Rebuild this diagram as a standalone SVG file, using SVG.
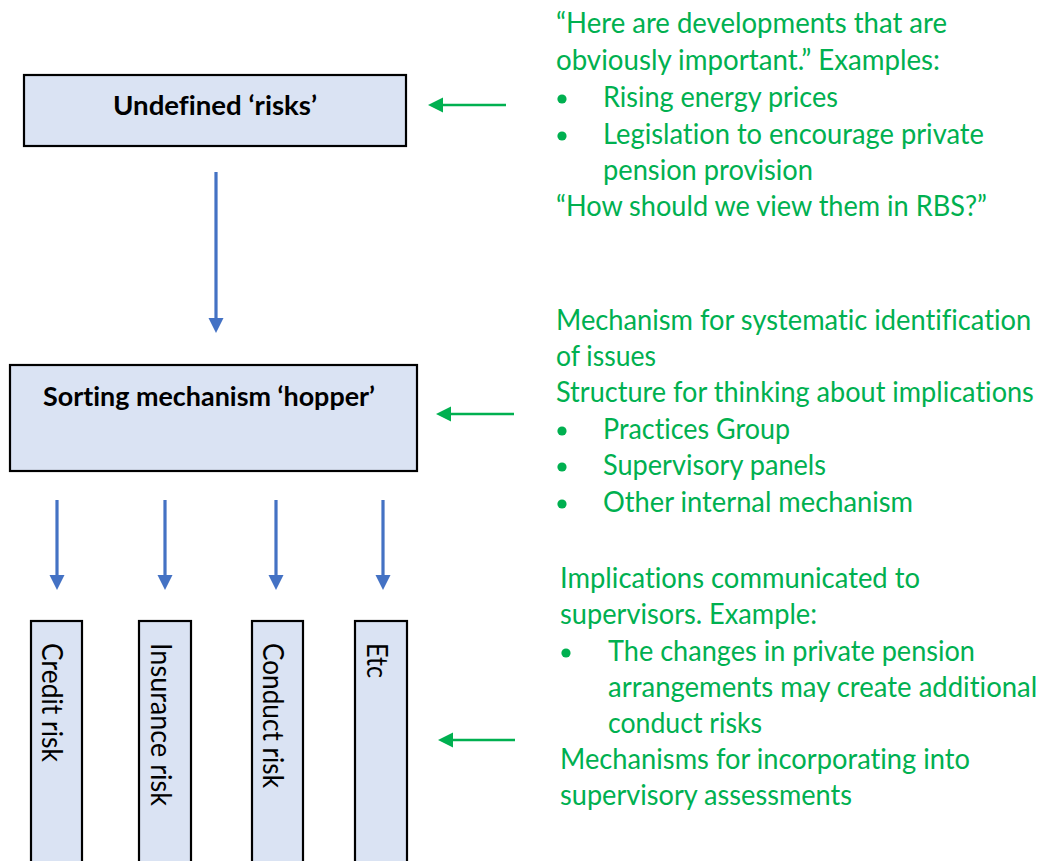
<svg xmlns="http://www.w3.org/2000/svg" width="1045" height="861" viewBox="0 0 1045 861">
  <style>
    text { font-variant-ligatures: none; }
    .box { fill: #DAE3F3; stroke: #000; stroke-width: 2.2; }
    .title { font-family: Lato, "Liberation Sans", sans-serif; font-weight: bold; font-size: 27px; fill: #000; }
    .col { font-family: Lato, "Liberation Sans", sans-serif; font-size: 28px; fill: #000; }
    .note { font-family: Lato, "Liberation Sans", sans-serif; font-size: 28px; fill: #00B050; }
    .dot { fill: #00B050; }
    .blue { stroke: #4472C4; stroke-width: 3.2; fill: none; }
    .green { stroke: #00B050; stroke-width: 2.6; fill: none; }
  </style>
  <defs>
    <marker id="headBlue" markerUnits="userSpaceOnUse" markerWidth="16" markerHeight="16" refX="2" refY="7.5" orient="auto">
      <path d="M0,0 L15,7.5 L0,15 z" fill="#4472C4"/>
    </marker>
    <marker id="headGreen" markerUnits="userSpaceOnUse" markerWidth="16" markerHeight="16" refX="2" refY="7.5" orient="auto">
      <path d="M0,0 L15,7.5 L0,15 z" fill="#00B050"/>
    </marker>
  </defs>
  <rect width="1045" height="861" fill="#fff"/>

  <!-- top box -->
  <g id="undefined-risks">
    <rect class="box" x="24" y="75" width="382" height="71"/>
    <text class="title" x="113" y="115" textLength="204" lengthAdjust="spacingAndGlyphs">Undefined ‘risks’</text>
  </g>

  <!-- sorting box -->
  <g id="hopper">
    <rect class="box" x="10" y="365" width="407" height="106"/>
    <text class="title" x="43" y="406" textLength="332" lengthAdjust="spacingAndGlyphs">Sorting mechanism ‘hopper’</text>
  </g>

  <!-- risk category columns -->
  <g id="credit-risk">
    <rect class="box" x="31" y="621" width="51" height="260"/>
    <text class="col" transform="translate(42,643) rotate(90)" textLength="119" lengthAdjust="spacingAndGlyphs">Credit risk</text>
  </g>
  <g id="insurance-risk">
    <rect class="box" x="139" y="621" width="52" height="260"/>
    <text class="col" transform="translate(151,643) rotate(90)" textLength="163" lengthAdjust="spacingAndGlyphs">Insurance risk</text>
  </g>
  <g id="conduct-risk">
    <rect class="box" x="252" y="621" width="51" height="260"/>
    <text class="col" transform="translate(263,643) rotate(90)" textLength="145" lengthAdjust="spacingAndGlyphs">Conduct risk</text>
  </g>
  <g id="etc">
    <rect class="box" x="355" y="621" width="52" height="260"/>
    <text class="col" transform="translate(367,643) rotate(90)" textLength="35" lengthAdjust="spacingAndGlyphs">Etc</text>
  </g>

  <!-- connectors -->
  <g id="connectors">
    <line class="blue" x1="216" y1="172" x2="216" y2="320" marker-end="url(#headBlue)"/>
    <line class="blue" x1="57" y1="500" x2="57" y2="577" marker-end="url(#headBlue)"/>
    <line class="blue" x1="165" y1="500" x2="165" y2="577" marker-end="url(#headBlue)"/>
    <line class="blue" x1="276" y1="500" x2="276" y2="577" marker-end="url(#headBlue)"/>
    <line class="blue" x1="383" y1="500" x2="383" y2="577" marker-end="url(#headBlue)"/>
    <line class="green" x1="506" y1="105" x2="441" y2="105" marker-end="url(#headGreen)"/>
    <line class="green" x1="514" y1="414" x2="449" y2="414" marker-end="url(#headGreen)"/>
    <line class="green" x1="515" y1="740" x2="451" y2="740" marker-end="url(#headGreen)"/>
  </g>

  <!-- annotation: incoming developments -->
  <g id="note-developments">
    <text class="note" x="556" y="33" textLength="391" lengthAdjust="spacingAndGlyphs">“Here are developments that are</text>
    <text class="note" x="556" y="70" textLength="384" lengthAdjust="spacingAndGlyphs">obviously important.” Examples:</text>
    <circle class="dot" cx="562" cy="99" r="4.6"/>
    <text class="note" x="603" y="107" textLength="235" lengthAdjust="spacingAndGlyphs">Rising energy prices</text>
    <circle class="dot" cx="562" cy="136" r="4.6"/>
    <text class="note" x="603" y="144" textLength="381" lengthAdjust="spacingAndGlyphs">Legislation to encourage private</text>
    <text class="note" x="603" y="180" textLength="210" lengthAdjust="spacingAndGlyphs">pension provision</text>
    <text class="note" x="556" y="216" textLength="431" lengthAdjust="spacingAndGlyphs">“How should we view them in RBS?”</text>
  </g>

  <!-- annotation: sorting mechanism (long lines squeezed horizontally to fit the right margin) -->
  <g id="note-sorting">
    <text class="note" transform="translate(556,330) scale(0.9,1)" textLength="528" lengthAdjust="spacingAndGlyphs">Mechanism for systematic identification</text>
    <text class="note" x="556" y="366" textLength="100" lengthAdjust="spacingAndGlyphs">of issues</text>
    <text class="note" transform="translate(556,402) scale(0.88,1)" textLength="543" lengthAdjust="spacingAndGlyphs">Structure for thinking about implications</text>
    <circle class="dot" cx="562" cy="431" r="4.6"/>
    <text class="note" x="603" y="439" textLength="187" lengthAdjust="spacingAndGlyphs">Practices Group</text>
    <circle class="dot" cx="562" cy="467" r="4.6"/>
    <text class="note" x="603" y="475" textLength="223" lengthAdjust="spacingAndGlyphs">Supervisory panels</text>
    <circle class="dot" cx="562" cy="504" r="4.6"/>
    <text class="note" x="603" y="512" textLength="310" lengthAdjust="spacingAndGlyphs">Other internal mechanism</text>
  </g>

  <!-- annotation: communication to supervisors -->
  <g id="note-supervisors">
    <text class="note" x="560" y="588" textLength="360" lengthAdjust="spacingAndGlyphs">Implications communicated to</text>
    <text class="note" x="560" y="624" textLength="257" lengthAdjust="spacingAndGlyphs">supervisors. Example:</text>
    <circle class="dot" cx="566" cy="653" r="4.6"/>
    <text class="note" x="608" y="661" textLength="367" lengthAdjust="spacingAndGlyphs">The changes in private pension</text>
    <text class="note" transform="translate(608,697) scale(0.9,1)" textLength="477" lengthAdjust="spacingAndGlyphs">arrangements may create additional</text>
    <text class="note" x="608" y="733" textLength="154" lengthAdjust="spacingAndGlyphs">conduct risks</text>
    <text class="note" x="560" y="769" textLength="410" lengthAdjust="spacingAndGlyphs">Mechanisms for incorporating into</text>
    <text class="note" x="560" y="805" textLength="292" lengthAdjust="spacingAndGlyphs">supervisory assessments</text>
  </g>
</svg>
